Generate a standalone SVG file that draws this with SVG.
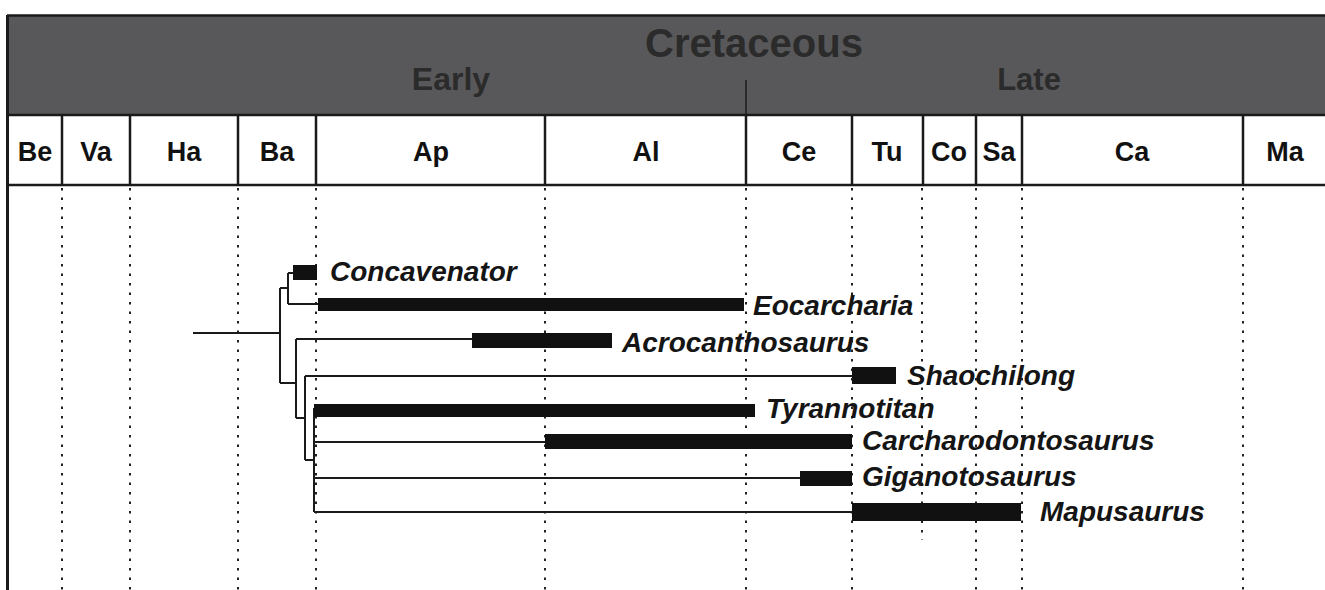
<svg xmlns="http://www.w3.org/2000/svg" width="1325" height="590" viewBox="0 0 1325 590">
<style>
.hdr{font-family:"Liberation Sans",Arial,sans-serif;font-weight:bold;fill:#2b2b2b;text-anchor:middle}
.stg{font-family:"Liberation Sans",Arial,sans-serif;font-weight:bold;font-size:27px;fill:#111;text-anchor:middle}
.tax{font-family:"Liberation Sans",Arial,sans-serif;font-weight:bold;font-style:italic;font-size:28px;fill:#151515}
.dot{stroke:#222;stroke-width:2;stroke-dasharray:2.5 7}
.br{stroke:#1a1a1a;stroke-width:2;fill:none}
.bar{fill:#111}
.bd{stroke:#1a1a1a;stroke-width:2.5}
</style>
<rect width="1325" height="590" fill="#fff"/>
<g id="header">
<rect x="7" y="15" width="1320" height="100" fill="#58585a"/>
<line class="bd" x1="7" y1="15.5" x2="1325" y2="15.5"/>
<line class="bd" x1="7" y1="115" x2="1325" y2="115"/>
<line class="bd" x1="7" y1="185" x2="1325" y2="185"/>
<line stroke="#1a1a1a" stroke-width="3" x1="7.5" y1="15" x2="7.5" y2="590"/>
<line stroke="#1a1a1a" stroke-width="1.5" x1="746" y1="80" x2="746" y2="115"/>
<text class="hdr" x="754" y="57" font-size="40">Cretaceous</text>
<text class="hdr" x="451" y="90" font-size="32">Early</text>
<text class="hdr" x="1029" y="90" font-size="31">Late</text>
</g>
<g id="stages">
<g class="bd">
<line x1="62" y1="115" x2="62" y2="185"/>
<line x1="130" y1="115" x2="130" y2="185"/>
<line x1="238" y1="115" x2="238" y2="185"/>
<line x1="316" y1="115" x2="316" y2="185"/>
<line x1="545" y1="115" x2="545" y2="185"/>
<line x1="746" y1="115" x2="746" y2="185"/>
<line x1="852" y1="115" x2="852" y2="185"/>
<line x1="923" y1="115" x2="923" y2="185"/>
<line x1="976" y1="115" x2="976" y2="185"/>
<line x1="1022" y1="115" x2="1022" y2="185"/>
<line x1="1243" y1="115" x2="1243" y2="185"/>
</g>
<text class="stg" x="35" y="161">Be</text>
<text class="stg" x="96" y="161">Va</text>
<text class="stg" x="184" y="161">Ha</text>
<text class="stg" x="277" y="161">Ba</text>
<text class="stg" x="431" y="161">Ap</text>
<text class="stg" x="646" y="161">Al</text>
<text class="stg" x="799" y="161">Ce</text>
<text class="stg" x="887" y="161">Tu</text>
<text class="stg" x="949" y="161">Co</text>
<text class="stg" x="999" y="161">Sa</text>
<text class="stg" x="1132" y="161">Ca</text>
<text class="stg" x="1285" y="161">Ma</text>
</g>
<g id="gridlines">
<line class="dot" x1="62" y1="188" x2="62" y2="590"/>
<line class="dot" x1="130" y1="188" x2="130" y2="590"/>
<line class="dot" x1="238" y1="188" x2="238" y2="590"/>
<line class="dot" x1="316" y1="188" x2="316" y2="590"/>
<line class="dot" x1="545" y1="188" x2="545" y2="590"/>
<line class="dot" x1="746" y1="188" x2="746" y2="590"/>
<line class="dot" x1="852" y1="188" x2="852" y2="590"/>
<line class="dot" x1="922" y1="188" x2="922" y2="540"/>
<line class="dot" x1="976" y1="188" x2="976" y2="590"/>
<line class="dot" x1="1022" y1="188" x2="1022" y2="590"/>
<line class="dot" x1="1243" y1="188" x2="1243" y2="590"/>
</g>
<g id="connectors">
<path class="br" d="M193 333H280M280 288V383M280 288H288M288 273V304M288 273H293M288 304H318"/>
<path class="br" d="M280 383H296M296 339V418M296 339H472M296 418H305M305 376V460M305 376H852M305 460H314"/>
<path class="br" d="M314 408V512M314 411H316M314 442H545M314 478H800M314 512H852"/>
</g>
<g id="Concavenator"><rect class="bar" x="293" y="265" width="24" height="15"/><text class="tax" x="330" y="281">Concavenator</text></g>
<g id="Eocarcharia"><rect class="bar" x="318" y="298" width="426" height="13"/><text class="tax" x="753" y="315">Eocarcharia</text></g>
<g id="Acrocanthosaurus"><rect class="bar" x="472" y="333" width="140" height="15"/><text class="tax" x="622" y="352">Acrocanthosaurus</text></g>
<g id="Shaochilong"><rect class="bar" x="852" y="367" width="44" height="17"/><text class="tax" x="907" y="385">Shaochilong</text></g>
<g id="Tyrannotitan"><rect class="bar" x="314" y="404" width="441" height="13"/><text class="tax" x="766" y="418">Tyrannotitan</text></g>
<g id="Carcharodontosaurus"><rect class="bar" x="545" y="434" width="307" height="15"/><text class="tax" x="862" y="450">Carcharodontosaurus</text></g>
<g id="Giganotosaurus"><rect class="bar" x="800" y="471" width="52" height="15"/><text class="tax" x="862" y="486">Giganotosaurus</text></g>
<g id="Mapusaurus"><rect class="bar" x="852" y="503" width="169" height="18"/><text class="tax" x="1040" y="521">Mapusaurus</text></g>
</svg>
